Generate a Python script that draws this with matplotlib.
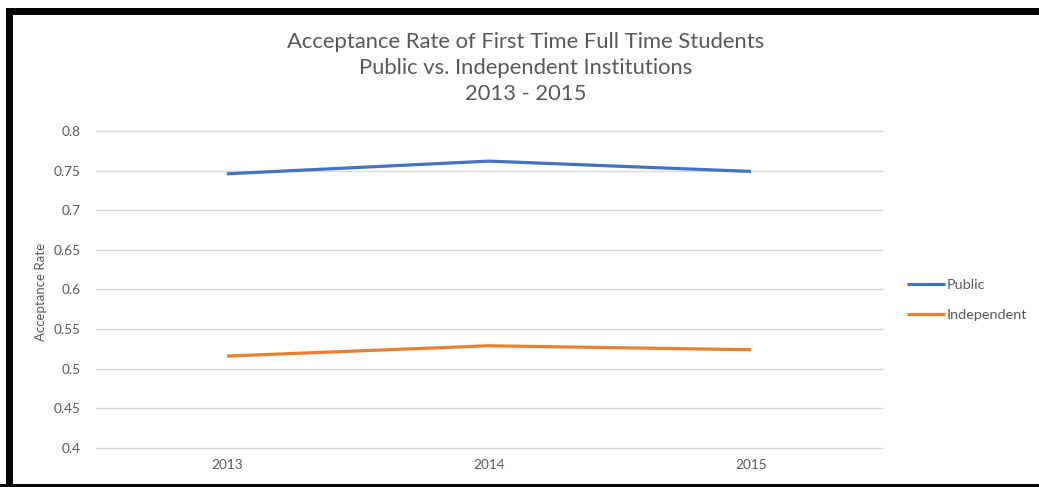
import matplotlib
matplotlib.use("Agg")
import matplotlib.pyplot as plt
from matplotlib.patches import Rectangle

# data
years = ["2013", "2014", "2015"]
public = [0.746, 0.762, 0.749]
independent = [0.516, 0.529, 0.524]
yticks = [0.4, 0.45, 0.5, 0.55, 0.6, 0.65, 0.7, 0.75, 0.8]
ytick_labels = ["0.4", "0.45", "0.5", "0.55", "0.6", "0.65", "0.7", "0.75", "0.8"]

W, H = 1039, 487
plt.rcParams['font.family'] = ['Lato', 'DejaVu Sans']

fig = plt.figure(figsize=(W / 100, H / 100), dpi=100)
ax = fig.add_axes([96 / W, 1 - 448 / H, (882 - 96) / W, (448 - 131) / H])

x = range(len(years))
ax.plot(x, public, color="#4472C4", lw=2.3, label="Public", solid_capstyle="butt")
ax.plot(x, independent, color="#ED7D31", lw=2.3, label="Independent", solid_capstyle="butt")

ax.set_xlim(-0.5, len(years) - 0.5)
ax.set_ylim(0.4, 0.8)
ax.set_yticks(yticks)
ax.set_yticklabels(ytick_labels)
ax.set_xticks(list(x))
ax.set_xticklabels(years)
ax.tick_params(length=0, labelsize=9.8, colors="#595959", pad=11)
ax.tick_params(axis="x", pad=8)
ax.grid(axis="y", color="#d9d9d9", lw=1)
for gl in ax.get_ygridlines():
    gl.set_clip_on(False)
ax.set_axisbelow(True)
for s in ax.spines.values():
    s.set_visible(False)

fig.text(41 / W, 1 - 292 / H, "Acceptance Rate", rotation=90, ha="center", va="center",
         fontsize=9.5, color="#595959")

fig.text(526 / W, 1 - 68 / H,
         "Acceptance Rate of First Time Full Time Students\nPublic vs. Independent Institutions\n2013 - 2015",
         ha="center", va="center", fontsize=15.8, color="#595959", linespacing=1.38)

leg = fig.legend(loc="center left", bbox_to_anchor=(907 / W, 1 - 300 / H), frameon=False,
                 fontsize=10.4, handlelength=2.6, handletextpad=0.15, labelspacing=1.2,
                 borderpad=0, borderaxespad=0)
for t in leg.get_texts():
    t.set_color("#595959")

# black frame around the picture (right side runs off the image)
fig.patches.append(Rectangle((8.5 / W, -0.01), 1.1, 1 - 10.5 / H + 0.01, transform=fig.transFigure,
                             fill=False, ec="black", lw=5, zorder=10))
fig.patches.append(Rectangle((0, 0), 1, 3 / H, transform=fig.transFigure,
                             fc="black", ec="none", zorder=10))

fig.savefig("out.png", dpi=100)
